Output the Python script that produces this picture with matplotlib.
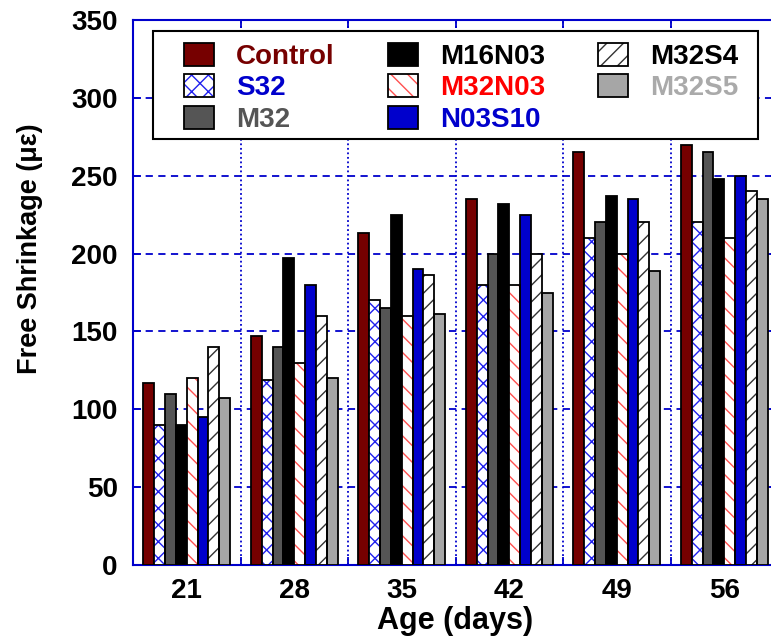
import numpy as np
import matplotlib
matplotlib.use("Agg")
import matplotlib.pyplot as plt
from matplotlib.patches import Patch, Rectangle
from matplotlib.legend_handler import HandlerTuple

plt.rcParams['font.family'] = ['Liberation Sans', 'DejaVu Sans']
plt.rcParams['font.weight'] = 'bold'
plt.rcParams['hatch.linewidth'] = 1.0

# data
ages = ['21', '28', '35', '42', '49', '56']
series = ['Control', 'S32', 'M32', 'M16N03', 'M32N03', 'N03S10', 'M32S4', 'M32S5']
control = [117, 147, 213, 235, 265, 270]
s32 = [90, 119, 170, 180, 210, 220]
m32 = [110, 140, 165, 200, 220, 265]
m16n03 = [90, 197, 225, 232, 237, 248]
m32n03 = [120, 130, 160, 180, 200, 210]
n03s10 = [95, 180, 190, 225, 235, 250]
m32s4 = [140, 160, 186, 200, 220, 240]
m32s5 = [107, 120, 161, 175, 189, 235]
values = [control, s32, m32, m16n03, m32n03, n03s10, m32s4, m32s5]

# style per series: face colour, hatch, hatch colour, legend text colour
faces = ['#760000', 'white', '#555555', 'black', 'white', '#0000cc', 'white', '#a6a6a6']
hatches = [None, 'xx', None, None, '\\\\', None, '//', None]
hatch_cols = [None, '#2020ee', None, None, '#ff5050', None, '#333333', None]
text_cols = ['#760000', '#0000cc', '#555555', 'black', '#ff0000', '#0000cc', 'black', '#aaaaaa']

blue = '#0000cc'

fig = plt.figure(figsize=(7.71, 6.40), dpi=100)
ax = fig.add_axes([133 / 771, 75 / 640, 645 / 771, 545 / 640])

x = np.arange(1, len(ages) + 1)
w = 0.101
handles = []
for i, name in enumerate(series):
    pos = x + (i - 3.5) * w
    if hatches[i]:
        # hatch drawn in its own colour, black outline on top
        ax.bar(pos, values[i], w, color='white', edgecolor=hatch_cols[i],
               hatch=hatches[i], linewidth=0, zorder=3)
        ax.bar(pos, values[i], w, fill=False, edgecolor='black', linewidth=1.3, zorder=4)
        h = (Patch(facecolor='white', edgecolor=hatch_cols[i], hatch=hatches[i], linewidth=0),
             Patch(fill=False, edgecolor='black', linewidth=1.3))
    else:
        ax.bar(pos, values[i], w, color=faces[i], edgecolor='black', linewidth=1.3, zorder=3)
        h = Patch(facecolor=faces[i], edgecolor='black', linewidth=1.3)
    handles.append(h)

ax.set_xlim(0.5, 6.5)
ax.set_ylim(0, 350)
ax.set_yticks(np.arange(0, 351, 50))
ax.set_xticks(x)
ax.set_xticklabels(ages)
ax.set_xticks(np.arange(1.5, 6.5, 1), minor=True)

ax.grid(axis='y', which='major', color=blue, linestyle=(0, (4, 3)), linewidth=1.3, zorder=0)
ax.grid(axis='x', which='minor', color=blue, linestyle=(0, (1, 1.5)), linewidth=1.3, zorder=0)
ax.grid(axis='x', which='major', visible=False)

for s in ax.spines.values():
    s.set_color(blue)
    s.set_linewidth(1.5)

ax.tick_params(axis='y', direction='in', length=6, color=blue, labelsize=20, pad=11,
               right=True, width=1.3)
ax.tick_params(axis='x', which='major', length=0, labelsize=20, pad=9)
ax.tick_params(axis='x', which='minor', direction='in', length=6, color=blue, top=True, width=1.3)
for lab in ax.get_xticklabels() + ax.get_yticklabels():
    lab.set_fontweight('bold')

ax.set_xlabel('Age (days)', fontsize=22, fontweight='bold', labelpad=2)
ax.set_ylabel('Free Shrinkage (\u03bc\u03b5)', fontsize=19.5, fontweight='bold')
ax.yaxis.label.set_va('center')
ax.yaxis.set_label_coords((30 - 133) / 645, (565 - 249) / 545)

# legend box drawn separately so its padding can be set freely
fig.patches.append(Rectangle((153 / 771, 1 - 139 / 640), 605 / 771, 108 / 640,
                             transform=fig.transFigure, facecolor='white',
                             edgecolor='black', linewidth=1.5, zorder=5))
leg = fig.legend(handles, series, ncol=3, loc='upper left',
                 bbox_to_anchor=(184 / 771, 1 - 43 / 640), frameon=False,
                 fontsize=20, handlelength=1.08, handleheight=0.9,
                 handletextpad=0.8, columnspacing=1.9, labelspacing=0.15,
                 borderpad=0, borderaxespad=0,
                 handler_map={tuple: HandlerTuple(ndivide=1, pad=0)})
leg.set_zorder(6)
for t, c in zip(leg.get_texts(), text_cols):
    t.set_color(c)
    t.set_fontweight('bold')

fig.savefig('out.png', dpi=100)
